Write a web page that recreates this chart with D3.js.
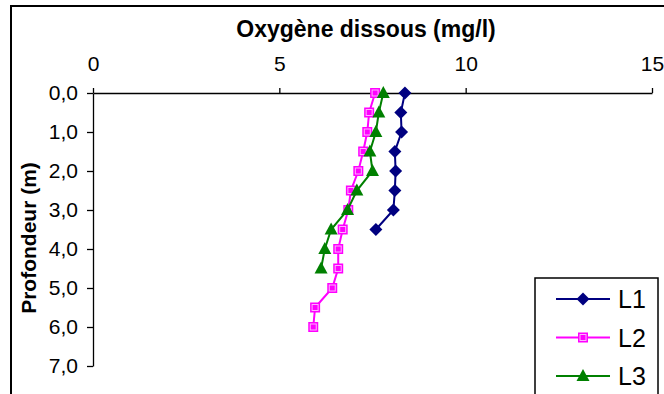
<!DOCTYPE html>
<html>
<head>
<meta charset="utf-8">
<script src="https://cdn.jsdelivr.net/npm/d3@7"></script>
<style>
  body { margin: 0; background: #fff; }
  svg { display: block; font-family: "Liberation Sans", Arial, sans-serif; }
</style>
</head>
<body>
<div id="chart"></div>
<script>
// depth (m) of each sample
const depthsL1 = [0, 0.5, 1, 1.5, 2, 2.5, 3, 3.5];
const depthsL2 = [0, 0.5, 1, 1.5, 2, 2.5, 3, 3.5, 4, 4.5, 5, 5.5, 6];
const depthsL3 = [0, 0.5, 1, 1.5, 2, 2.5, 3, 3.5, 4, 4.5];

// dissolved oxygen (mg/l)
const oxyL1 = [8.37, 8.26, 8.28, 8.10, 8.12, 8.10, 8.06, 7.59];
const oxyL2 = [7.57, 7.41, 7.36, 7.25, 7.12, 6.92, 6.85, 6.70, 6.58, 6.58, 6.42, 5.96, 5.91];
const oxyL3 = [7.79, 7.67, 7.59, 7.43, 7.50, 7.08, 6.83, 6.39, 6.22, 6.12];

const xTicks = [0, 5, 10, 15];
const yTicks = [0, 1, 2, 3, 4, 5, 6, 7];
const seriesNames = ["L1", "L2", "L3"];

const width = 664, height = 394;
const svg = d3.select("#chart").append("svg")
    .attr("width", width)
    .attr("height", height);

// outer chart border (runs off the right and bottom edges)
svg.append("rect")
    .attr("x", 11).attr("y", 6)
    .attr("width", 700).attr("height", 450)
    .attr("fill", "none")
    .attr("stroke", "#000")
    .attr("stroke-width", 2);

const x = d3.scaleLinear().domain([0, 15]).range([93, 652]);
const y = d3.scaleLinear().domain([0, 7]).range([93, 366]);

// x axis on top
const xAxis = d3.axisTop(x).tickValues(xTicks).tickSize(5).tickSizeOuter(0).tickPadding(17);
const gx = svg.append("g").attr("transform", `translate(0,${y(0)})`).call(xAxis);
gx.select(".domain").attr("stroke-width", 1.3);
gx.selectAll(".tick line").attr("stroke-width", 1.3);
gx.selectAll("text").attr("font-size", 21).attr("fill", "#000")
    .attr("font-family", "Liberation Sans, Arial, sans-serif");

const yAxis = d3.axisLeft(y).tickValues(yTicks).tickSize(6).tickSizeOuter(0).tickPadding(9)
    .tickFormat(d => d3.format(".1f")(d).replace(".", ","));
const gy = svg.append("g").attr("transform", `translate(${x(0)},0)`).call(yAxis);
gy.select(".domain").attr("stroke-width", 1.3);
gy.selectAll(".tick line").attr("stroke-width", 1.3);
gy.selectAll("text").attr("font-size", 21).attr("fill", "#000")
    .attr("font-family", "Liberation Sans, Arial, sans-serif");

// titles
svg.append("text")
    .attr("x", 366).attr("y", 37)
    .attr("text-anchor", "middle")
    .attr("font-size", 23).attr("font-weight", "bold")
    .text("Oxygène dissous (mg/l)");

svg.append("text")
    .attr("transform", "translate(36,238) rotate(-90)")
    .attr("text-anchor", "middle")
    .attr("font-size", 21).attr("font-weight", "bold")
    .text("Profondeur (m)");

// marker drawing
function drawMarker(g, type, cx, cy) {
    if (type === "diamond") {
        g.append("path")
            .attr("d", `M${cx},${cy - 6.5}L${cx + 6.5},${cy}L${cx},${cy + 6.5}L${cx - 6.5},${cy}Z`)
            .attr("fill", "#000080");
    } else if (type === "square") {
        g.append("rect")
            .attr("x", cx - 5).attr("y", cy - 5)
            .attr("width", 10).attr("height", 10)
            .attr("fill", "#FF00FF");
        g.append("rect")
            .attr("x", cx - 3).attr("y", cy - 3)
            .attr("width", 6).attr("height", 6)
            .attr("fill", "none")
            .attr("stroke", "#ffb0ff").attr("stroke-width", 1);
    } else {
        g.append("path")
            .attr("d", `M${cx},${cy - 7}L${cx + 6.5},${cy + 5}L${cx - 6.5},${cy + 5}Z`)
            .attr("fill", "#008000");
    }
}

const series = [
    {name: seriesNames[0], depths: depthsL1, values: oxyL1, color: "#000080", marker: "diamond"},
    {name: seriesNames[1], depths: depthsL2, values: oxyL2, color: "#FF00FF", marker: "square"},
    {name: seriesNames[2], depths: depthsL3, values: oxyL3, color: "#008000", marker: "triangle"}
];

const line = d3.line().x(d => x(d[0])).y(d => y(d[1]));

series.forEach(s => {
    const pts = s.values.map((v, i) => [v, s.depths[i]]);
    svg.append("path")
        .attr("d", line(pts))
        .attr("fill", "none")
        .attr("stroke", s.color)
        .attr("stroke-width", 2);
    const g = svg.append("g");
    pts.forEach(p => drawMarker(g, s.marker, x(p[0]), y(p[1])));
});

// legend
const legend = svg.append("g");
legend.append("rect")
    .attr("x", 535).attr("y", 278)
    .attr("width", 123).attr("height", 140)
    .attr("fill", "#fff")
    .attr("stroke", "#000")
    .attr("stroke-width", 1.5);

series.forEach((s, i) => {
    const ly = 299 + i * 38.5;
    legend.append("line")
        .attr("x1", 556).attr("x2", 610)
        .attr("y1", ly).attr("y2", ly)
        .attr("stroke", s.color).attr("stroke-width", 2);
    drawMarker(legend, s.marker, 583, ly);
    legend.append("text")
        .attr("x", 618).attr("y", ly + 9)
        .attr("font-size", 25)
        .text(s.name);
});
</script>
</body>
</html>
